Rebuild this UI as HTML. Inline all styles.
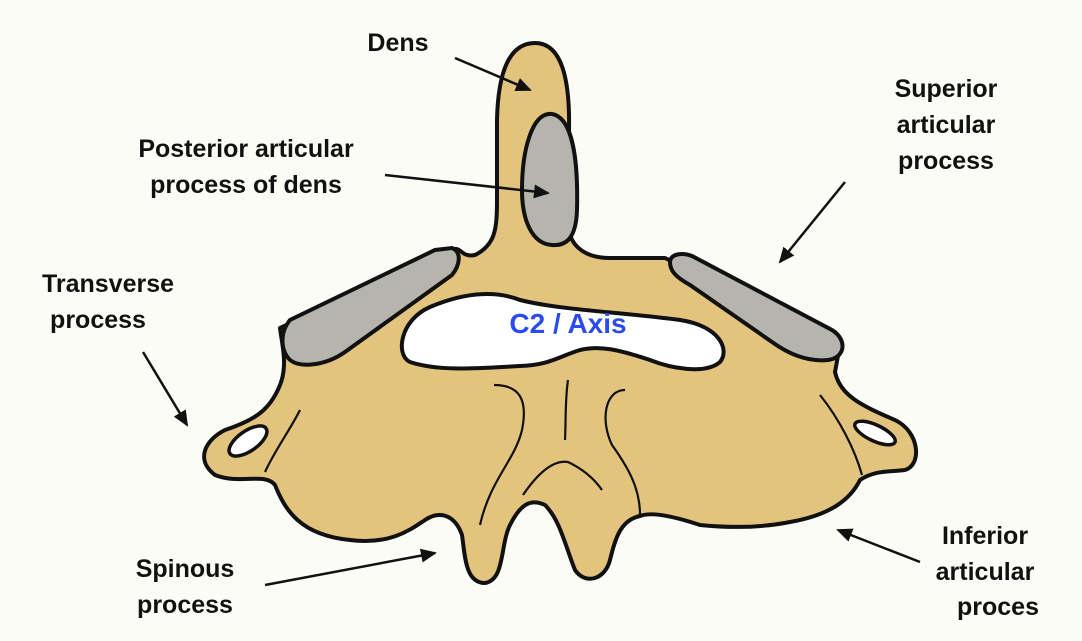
<!DOCTYPE html>
<html><head><style>
html,body{margin:0;padding:0;background:#fcfcf7;}
svg{display:block}
text{font-family:"Liberation Sans",sans-serif;font-weight:bold;font-size:25px;fill:#111;text-anchor:middle}
</style></head><body>
<svg width="1082" height="641" viewBox="0 0 1082 641" xmlns="http://www.w3.org/2000/svg">
<defs>
<marker id="b" markerWidth="16" markerHeight="16" refX="14" refY="8" orient="auto" markerUnits="userSpaceOnUse" viewBox="0 0 16 16"><path d="M0,1 L16,8 L0,15 z" fill="#111"/></marker></defs>
<rect width="1082" height="641" fill="#fcfcf7"/>
<path d="M535,43 C562,43 570,80 569,130 L568,225 C570,250 590,258 610,258 L665,258
 L840,345 L835,372 C840,395 860,405 895,420 C920,432 922,465 905,470 C890,472 875,470 860,480
 C850,500 830,515 790,522 C760,528 730,528 700,525 C670,515 650,512 640,516 C620,520 615,540 610,560 C605,580 585,585 575,570 C565,545 560,520 545,505 C530,498 520,505 510,525 C500,545 505,580 485,583 C465,583 465,555 462,535 C455,515 440,510 425,520 C410,530 390,545 350,540 C300,535 285,510 275,485 C265,472 240,485 215,475 C195,460 205,440 225,430 C255,420 270,410 280,385 C288,365 282,345 280,328
 L450,250 C462,245 460,258 475,255 C495,245 497,230 497,200 L497,120 C498,75 508,43 535,43 Z" fill="#e3c47e" stroke="#111" stroke-width="4" stroke-linejoin="round"/>
<path d="M452,248 C462,252 460,265 452,275 L345,352 C325,366 300,368 290,360 C280,350 280,332 290,320 L435,250 Z" fill="#b6b5ad" stroke="#111" stroke-width="4"/>
<path d="M670,262 C670,254 682,252 692,256 L832,330 C848,340 845,358 828,360 C808,362 790,355 772,342 L690,285 C674,276 670,270 670,262 Z" fill="#b6b5ad" stroke="#111" stroke-width="4"/>
<path d="M552,114 C575,118 578,170 577,210 C576,240 565,246 552,245 C532,244 522,220 522,190 C522,150 532,112 552,114 Z" fill="#b6b5ad" stroke="#111" stroke-width="4"/>
<path d="M430,307 C470,290 500,292 520,300 C560,310 620,312 680,320 C720,326 730,350 720,362 C705,375 670,368 650,360 C620,350 600,345 580,350 C560,356 550,365 520,366 C480,368 440,372 410,362 C395,355 400,320 430,307 Z" fill="#fff" stroke="#111" stroke-width="4"/>
<text x="568" y="333" style="fill:#2a4bf0;font-size:28px">C2 / Axis</text>
<ellipse cx="248" cy="441" rx="10" ry="22" transform="rotate(55 248 441)" fill="#fff" stroke="#111" stroke-width="3.5"/>
<ellipse cx="875" cy="433" rx="22" ry="8" transform="rotate(25 875 433)" fill="#fff" stroke="#111" stroke-width="3.5"/>
<g fill="none" stroke="#111" stroke-width="2.2">
<path d="M300,410 C290,430 275,450 265,472"/>
<path d="M820,395 C840,420 855,450 862,475"/>
<path d="M494,385 C520,385 528,400 522,430 C515,460 490,480 480,525"/>
<path d="M568,380 C565,400 566,420 565,440"/>
<path d="M625,390 C605,390 600,420 612,445 C630,470 640,490 640,515"/>
<path d="M523,495 C540,470 555,460 568,462 C585,470 595,480 602,490"/>
</g>
<g stroke="#111" stroke-width="2.5">
<line x1="455" y1="58" x2="530" y2="90" marker-end="url(#b)"/>
<line x1="385" y1="175" x2="548" y2="193" marker-end="url(#b)"/>
<line x1="845" y1="182" x2="780" y2="262" marker-end="url(#b)"/>
<line x1="143" y1="352" x2="187" y2="425" marker-end="url(#b)"/>
<line x1="265" y1="585" x2="435" y2="553" marker-end="url(#b)"/>
<line x1="920" y1="562" x2="838" y2="530" marker-end="url(#b)"/>
</g>
<text x="398" y="51">Dens</text>
<text x="246" y="157">Posterior articular</text>
<text x="246" y="193">process of dens</text>
<text x="946" y="97">Superior</text>
<text x="946" y="133">articular</text>
<text x="946" y="169">process</text>
<text x="108" y="292">Transverse</text>
<text x="98" y="328">process</text>
<text x="185" y="577">Spinous</text>
<text x="185" y="613">process</text>
<text x="985" y="544">Inferior</text>
<text x="985" y="580">articular</text>
<text x="998" y="615">proces</text>
</svg>
</body></html>
